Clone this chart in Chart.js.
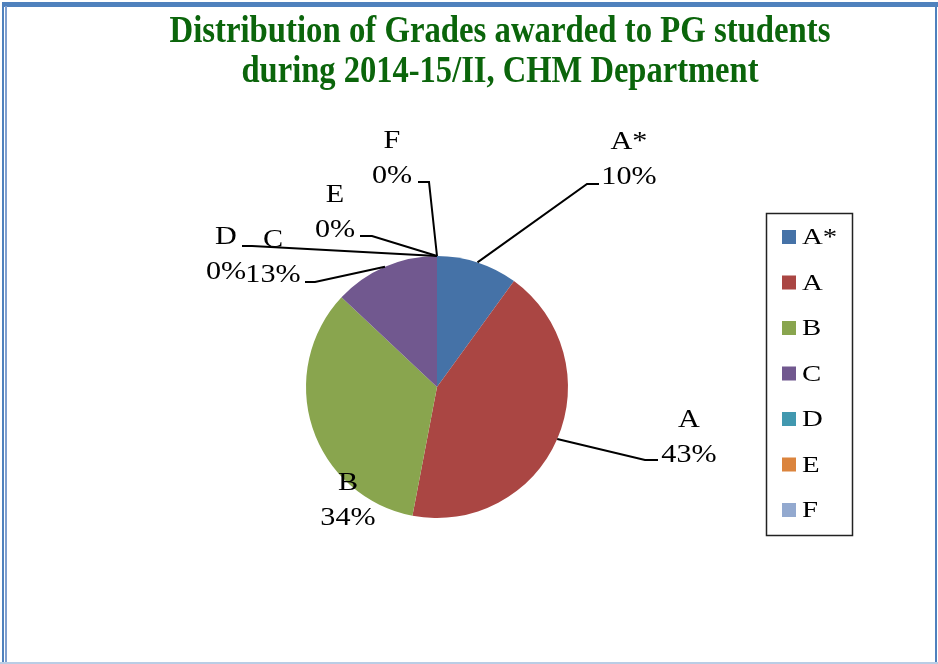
<!DOCTYPE html>
<html>
<head>
<meta charset="utf-8">
<script src="https://cdn.jsdelivr.net/npm/chart.js@4.4.1/dist/chart.umd.min.js"></script>
<style>
    html, body { margin: 0; padding: 0; background: #fff; }
    #chartGrades { display: block; }
</style>
</head>
<body>
<canvas id="chartGrades" width="938" height="664"></canvas>
<script>
// grades + share of students (%)
const grades = ["A*", "A", "B", "C", "D", "E", "F"];
const shares = [10, 43, 34, 13, 0, 0, 0];
const sliceColors = ["#4572a7", "#aa4643", "#89a54e", "#71588f", "#4198af", "#db843d", "#93a9cf"];

const titleLines = [
    "Distribution of Grades awarded to PG students",
    "during 2014-15/II, CHM Department",
];

// label placement, offsets from pie centre (px)
// tx = text centre x, ty = first line baseline, lx/ly = end of leader near text, stub = horizontal stub
const labelPos = [
    { tx: 192, ty: -238, lx: 162, ly: -203, stub: -12 },
    { tx: 252, ty: 40, lx: 221, ly: 73, stub: -13 },
    { tx: -89, ty: 103 },
    { tx: -164, ty: -140, lx: -132, ly: -105, stub: 10 },
    { tx: -211, ty: -143, lx: -195, ly: -141, stub: 10 },
    { tx: -102, ty: -185, lx: -77, ly: -151, stub: 12 },
    { tx: -45, ty: -239, lx: -19, ly: -205, stub: 11 },
];

const SERIF = '"Liberation Serif", "Times New Roman", serif';

function stretchText(ctx, text, x, y, sx) {
    ctx.save();
    ctx.translate(x, y);
    ctx.scale(sx, 1);
    ctx.fillText(text, 0, 0);
    ctx.restore();
}

const frameAndTitle = {
    id: "frameAndTitle",
    beforeDraw(chart) {
        const ctx = chart.ctx;
        ctx.save();
        ctx.fillStyle = "#fff";
        ctx.fillRect(0, 0, chart.width, chart.height);
        // blue frame like the original slide box
        ctx.fillStyle = "#4f81bd";
        ctx.fillRect(2, 2, 936, 5);
        ctx.fillRect(2, 2, 2, 662);
        ctx.fillRect(935, 2, 2, 662);
        ctx.fillStyle = "#7f9fcf";
        ctx.fillRect(5, 6, 2, 658);
        ctx.fillStyle = "#b9cde5";
        ctx.fillRect(0, 662, 938, 2);
        ctx.restore();
    },
    afterDraw(chart) {
        const ctx = chart.ctx;
        ctx.save();
        ctx.fillStyle = "#0b650b";
        ctx.textAlign = "center";
        ctx.textBaseline = "alphabetic";
        ctx.font = "bold 37px " + SERIF;
        const widths = [661, 517];
        const bases = [42, 82];
        titleLines.forEach((t, i) => {
            const sx = widths[i] / ctx.measureText(t).width;
            stretchText(ctx, t, 500, bases[i], sx);
        });
        ctx.restore();
    },
};

const sliceLabels = {
    id: "sliceLabels",
    afterDatasetsDraw(chart) {
        const ctx = chart.ctx;
        const meta = chart.getDatasetMeta(0);
        const ds = chart.data.datasets[0];
        const total = ds.data.reduce((s, v) => s + v, 0) || 1;

        ctx.save();
        ctx.strokeStyle = "#000";
        ctx.lineWidth = 2;
        ctx.fillStyle = "#000";
        ctx.textAlign = "center";
        ctx.font = "26px " + SERIF;

        meta.data.forEach((arc, i) => {
            const p = labelPos[i];
            if (!p) return;
            const cx = arc.x, cy = arc.y;
            const mid = (arc.startAngle + arc.endAngle) / 2;
            const ex = cx + Math.cos(mid) * arc.outerRadius;
            const ey = cy + Math.sin(mid) * arc.outerRadius;

            if (p.lx !== undefined) {
                ctx.beginPath();
                ctx.moveTo(cx + p.lx, cy + p.ly);
                ctx.lineTo(cx + p.lx + p.stub, cy + p.ly);
                ctx.lineTo(ex, ey);
                ctx.stroke();
            }

            const pct = Math.round((ds.data[i] * 100) / total) + "%";
            stretchText(ctx, chart.data.labels[i], cx + p.tx, cy + p.ty, 1.16);
            stretchText(ctx, pct, cx + p.tx, cy + p.ty + 35, 1.16);
        });
        ctx.restore();
    },
};

const boxLegend = {
    id: "boxLegend",
    afterDraw(chart) {
        const ctx = chart.ctx;
        const colors = chart.data.datasets[0].backgroundColor;
        ctx.save();
        ctx.strokeStyle = "#222";
        ctx.lineWidth = 1.5;
        ctx.strokeRect(766.5, 213.5, 86, 322);
        ctx.font = "24px " + SERIF;
        ctx.textAlign = "left";
        ctx.textBaseline = "middle";
        chart.data.labels.forEach((lbl, i) => {
            const y = 237 + i * 45.5;
            ctx.fillStyle = colors[i];
            ctx.fillRect(782, y - 7, 14, 14);
            ctx.fillStyle = "#000";
            stretchText(ctx, lbl, 802, y + 1, 1.2);
        });
        ctx.restore();
    },
};

document.addEventListener("DOMContentLoaded", () => {
    const canvas = document.getElementById("chartGrades");
    new Chart(canvas, {
        type: "pie",
        data: {
            labels: grades,
            datasets: [
                {
                    data: shares,
                    backgroundColor: sliceColors,
                    borderWidth: 0,
                    hoverOffset: 0,
                    offset: 0,
                },
            ],
        },
        options: {
            responsive: false,
            animation: false,
            devicePixelRatio: 1,
            events: [],
            layout: { padding: { left: 306, right: 370, top: 256, bottom: 146 } },
            plugins: {
                legend: { display: false },
                title: { display: false },
                tooltip: { enabled: false },
            },
        },
        plugins: [frameAndTitle, sliceLabels, boxLegend],
    });
});
</script>
</body>
</html>
